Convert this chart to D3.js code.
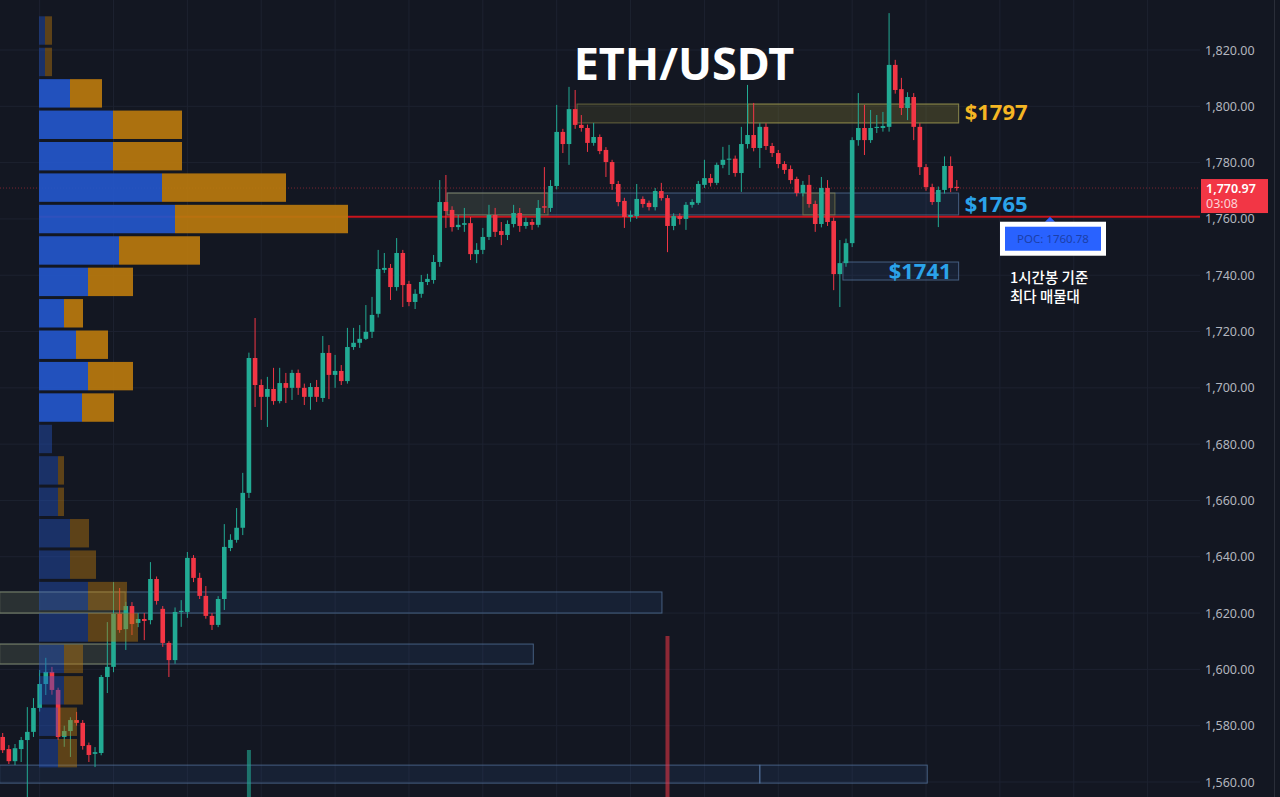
<!DOCTYPE html>
<html>
<head>
<meta charset="utf-8">
<script src="https://cdn.jsdelivr.net/npm/d3@7"></script>
<style>
  body { margin: 0; background: #131722; }
  svg { display: block; }
</style>
</head>
<body>
<div class="canvas"></div>
<script>
// 1h candles (oldest first)
const opens = [
  1576.0,1571.7,1567.4,1571.7,1574.9,1577.8,1586.3,1594.8,1599.1,1592.7,
  1576.0,1578.1,1582.0,1581.0,1573.1,1570.0,1570.3,1597.3,1600.9,1619.7,
  1614.3,1622.5,1616.5,1617.9,1617.5,1632.1,1621.5,1609.4,1603.3,1620.4,
  1620.4,1639.6,1632.5,1626.1,1619.0,1615.8,1625.0,1643.1,1646.0,1650.3,
  1662.7,1710.6,1701.0,1696.8,1699.6,1695.3,1701.7,1700.0,1705.3,1700.0,
  1696.8,1700.3,1696.4,1712.4,1704.6,1706.0,1702.4,1714.5,1716.0,1717.4,
  1719.9,1726.3,1741.9,1742.6,1735.8,1747.9,1736.9,1730.5,1733.4,1737.6,
  1738.3,1744.7,1766.0,1763.2,1757.1,1757.9,1758.5,1747.5,1749.0,1753.6,
  1761.4,1755.7,1754.3,1758.2,1762.1,1757.5,1758.9,1757.9,1764.5,1763.9,
  1771.7,1790.9,1786.6,1799.0,1793.4,1792.3,1787.0,1789.1,1784.5,1780.2,
  1772.4,1766.4,1760.7,1761.0,1767.1,1765.7,1764.2,1769.9,1767.4,1757.5,
  1761.0,1760.0,1765.0,1765.7,1772.1,1774.5,1772.8,1779.2,1781.2,1781.4,
  1776.3,1786.6,1789.8,1785.2,1792.7,1785.9,1783.4,1779.5,1777.7,1774.2,
  1769.2,1772.1,1765.3,1758.2,1771.0,1759.3,1740.4,1744.3,1751.4,1788.0,
  1792.3,1788.0,1792.3,1792.3,1792.7,1814.7,1806.1,1799.4,1803.3,1792.7,
  1778.4,1771.3,1766.0,1770.3,1778.8,1771.4
];
const highs = [
  1577.4,1573.1,1573.5,1576.0,1586.6,1589.8,1599.8,1604.1,1600.9,1593.5,
  1580.0,1583.0,1584.9,1582.0,1574.0,1572.4,1598.0,1616.8,1631.0,1628.9,
  1624.0,1623.9,1620.0,1620.0,1638.1,1633.0,1622.5,1610.0,1622.0,1624.6,
  1641.7,1640.6,1634.3,1629.6,1620.0,1626.0,1651.6,1648.0,1657.3,1669.8,
  1712.5,1724.8,1703.0,1703.9,1707.1,1707.1,1705.3,1706.4,1706.5,1701.5,
  1701.7,1702.8,1718.4,1715.2,1711.7,1708.1,1721.3,1721.3,1722.3,1729.4,
  1732.3,1749.0,1747.9,1744.0,1753.2,1749.0,1738.0,1735.0,1740.1,1740.5,
  1747.2,1773.8,1775.6,1764.5,1761.4,1763.9,1760.7,1751.4,1756.8,1765.0,
  1763.9,1758.9,1759.5,1765.0,1763.9,1760.5,1760.0,1766.7,1778.4,1773.8,
  1800.5,1792.0,1806.9,1805.8,1796.9,1793.5,1794.1,1790.0,1785.5,1781.0,
  1773.5,1767.5,1763.0,1772.4,1768.0,1766.5,1771.0,1772.8,1768.5,1762.0,
  1762.0,1766.0,1767.0,1773.5,1781.0,1776.0,1780.0,1785.6,1786.3,1782.5,
  1792.7,1807.6,1801.2,1794.0,1794.0,1787.0,1784.5,1780.5,1779.0,1775.0,
  1773.5,1775.6,1766.5,1774.9,1773.8,1760.5,1752.5,1753.0,1789.0,1804.7,
  1800.5,1798.7,1796.9,1798.0,1833.1,1816.5,1810.1,1805.0,1804.7,1794.0,
  1779.5,1772.5,1771.5,1782.2,1782.2,1773.8
];
const lows = [
  1570.3,1566.4,1566.0,1567.1,1550.0,1576.0,1585.0,1590.9,1591.0,1575.0,
  1572.5,1568.9,1580.0,1571.5,1567.1,1565.3,1569.5,1591.6,1599.0,1613.0,
  1606.9,1612.2,1615.0,1610.4,1616.0,1623.0,1608.0,1597.3,1602.0,1615.1,
  1618.3,1631.0,1625.0,1618.0,1614.0,1615.0,1621.1,1642.0,1645.0,1647.7,
  1660.9,1693.2,1688.6,1686.1,1694.0,1694.5,1694.6,1695.7,1697.5,1693.9,
  1692.2,1695.0,1695.0,1696.0,1700.0,1701.0,1701.5,1713.5,1714.2,1717.0,
  1717.7,1725.0,1740.8,1731.2,1734.5,1728.7,1729.0,1728.0,1732.0,1736.5,
  1737.0,1743.0,1756.8,1755.5,1756.1,1755.4,1745.4,1744.3,1747.5,1752.5,
  1753.6,1750.7,1752.5,1757.0,1755.4,1756.5,1756.1,1757.0,1762.1,1762.5,
  1770.5,1783.4,1779.2,1792.0,1791.0,1783.8,1786.0,1783.0,1774.9,1770.3,
  1764.5,1756.8,1759.0,1760.0,1764.0,1763.0,1763.0,1766.5,1748.2,1756.0,
  1758.0,1756.1,1764.0,1765.0,1771.0,1771.5,1772.0,1778.0,1775.6,1775.0,
  1769.6,1785.0,1784.0,1778.1,1784.5,1782.0,1778.0,1776.0,1772.5,1768.0,
  1768.0,1764.0,1755.4,1757.0,1757.5,1734.7,1728.7,1743.0,1750.0,1786.0,
  1782.7,1787.0,1790.5,1791.0,1791.0,1804.5,1796.9,1795.1,1788.0,1775.6,
  1770.0,1765.0,1757.1,1769.0,1769.5,1770.0
];
const closes = [
  1571.3,1567.4,1572.0,1574.9,1577.8,1586.3,1594.8,1599.1,1592.7,1576.0,
  1578.1,1582.0,1581.0,1572.8,1569.6,1570.6,1597.3,1600.9,1619.7,1614.0,
  1622.5,1616.1,1617.9,1617.2,1632.1,1624.3,1609.4,1603.3,1620.4,1620.8,
  1639.6,1632.5,1626.1,1619.0,1615.8,1625.0,1643.5,1646.0,1650.3,1662.7,
  1710.6,1701.0,1696.8,1699.6,1695.3,1701.7,1700.0,1705.3,1700.0,1696.8,
  1700.3,1696.8,1712.4,1704.6,1706.0,1702.4,1714.5,1716.0,1717.4,1719.9,
  1725.9,1742.2,1742.6,1735.8,1747.9,1736.5,1730.5,1733.4,1737.6,1738.7,
  1744.7,1766.0,1762.8,1757.1,1757.9,1758.5,1747.5,1749.0,1753.6,1761.4,
  1755.4,1754.3,1758.2,1762.1,1757.5,1758.9,1757.9,1763.9,1764.0,1771.7,
  1790.9,1786.6,1799.0,1793.4,1792.3,1787.0,1789.1,1784.1,1780.2,1772.4,
  1766.0,1760.7,1761.4,1767.1,1765.3,1764.2,1769.9,1767.4,1757.5,1761.0,
  1760.0,1765.0,1766.0,1772.4,1774.5,1772.8,1779.2,1781.0,1781.4,1776.3,
  1786.6,1789.8,1785.2,1792.7,1785.9,1783.4,1779.5,1777.4,1773.8,1769.2,
  1772.1,1765.3,1758.2,1771.0,1758.9,1740.4,1744.3,1751.4,1788.0,1792.3,
  1788.0,1792.3,1792.7,1793.0,1814.7,1805.8,1799.4,1803.3,1792.7,1778.4,
  1771.3,1766.0,1770.3,1778.8,1771.0,1770.97
];

// only the tallest volume bars reach into view
const volumeSpikes = [
  { i: 40, v: 50, up: true },
  { i: 108, v: 88, up: false }
];

// volume profile rows, top to bottom (buy / sell)
const profileTop = 1832.5;
const profileRow = 11.16;
const profileBuy  = [6,6,31,74,74,123,136,80,49,25,37,49,43,13,19,19,31,31,49,49,25,25,19,19];
const profileSell = [7,7,32,69,69,124,173,81,45,19,32,45,32,0,6,6,19,26,39,50,19,19,19,19];
const valueAreaRows = [2, 12];
const poc = 1760.78;
const lastPrice = 1770.97;
const countdown = '03:08';

// zones: price range + candle index range
const zones = [
  { top: 1800.8, bottom: 1794.1, from: 93.3,  to: 155.3, kind: 'olive' },
  { top: 1800.8, bottom: 1794.1, from: 121.1, to: 155.3, kind: 'olive' },
  { top: 1769.2, bottom: 1761.4, from: 72.2,  to: 155.3, kind: 'blue' },
  { top: 1769.2, bottom: 1761.4, from: 72.2,  to: 88.6,  kind: 'olive' },
  { top: 1769.2, bottom: 1761.4, from: 130.0, to: 135.2, kind: 'olive' },
  { top: 1744.7, bottom: 1738.3, from: 136.5, to: 155.3, kind: 'blue' },
  { top: 1627.5, bottom: 1620.0, from: -0.5,  to: 107.1, kind: 'blue' },
  { top: 1627.5, bottom: 1620.0, from: -0.5,  to: 19.9,  kind: 'olive' },
  { top: 1609.0, bottom: 1601.9, from: -0.5,  to: 86.2,  kind: 'blue' },
  { top: 1609.0, bottom: 1601.9, from: -0.5,  to: 18.2,  kind: 'olive' },
  { top: 1566.0, bottom: 1559.6, from: -0.5,  to: 123.0, kind: 'blue' },
  { top: 1566.0, bottom: 1559.6, from: 123.0, to: 150.2, kind: 'blue' }
];
const zoneLabels = [
  { text: '$1797', price: 1797.9, at: 155.3, inside: false, color: '#f5b623' },
  { text: '$1765', price: 1765.3, at: 155.3, inside: false, color: '#2ba3ea' },
  { text: '$1741', price: 1741.5, at: 155.3, inside: true,  color: '#2ba3ea' }
];
const noteLines = ['1시간봉 기준', '최다 매물대'];

const priceTicks = [1560,1580,1600,1620,1640,1660,1680,1700,1720,1740,1760,1780,1800,1820];

const W = 1280, H = 797, plotRight = 1200;
const up = '#22ab94', down = '#f23645';

const svg = d3.select('.canvas')
  .append('svg')
    .attr('width', W)
    .attr('height', H);

svg.append('rect').attr('width', W).attr('height', H).attr('fill', '#131722');

const x = d3.scaleLinear().domain([0, opens.length - 1]).range([2.7, 956.8]);
const y = d3.scaleLinear().domain([1560, 1820]).range([782, 50]);
const vol = d3.scaleLinear().domain([0, 100]).range([900, 600]);
const px = d3.scaleLinear().domain([0, 309]).range([39, 348]);

// grid
svg.append('g').selectAll('line')
  .data(priceTicks)
  .join('line')
    .attr('x1', 0).attr('x2', plotRight)
    .attr('y1', d => y(d)).attr('y2', d => y(d))
    .attr('stroke', '#1d2230');

svg.append('g').selectAll('line')
  .data(d3.range(6, 190, 12))
  .join('line')
    .attr('x1', d => x(d)).attr('x2', d => x(d))
    .attr('y1', 0).attr('y2', H)
    .attr('stroke', '#1d2230');

// zones
svg.append('g').selectAll('rect')
  .data(zones)
  .join('rect')
    .attr('x', d => x(d.from))
    .attr('y', d => y(d.top))
    .attr('width', d => x(d.to) - x(d.from))
    .attr('height', d => y(d.bottom) - y(d.top))
    .attr('fill', d => d.kind === 'olive' ? 'rgba(120,115,50,0.2)' : 'rgba(50,90,150,0.16)')
    .attr('stroke', d => d.kind === 'olive' ? 'rgba(150,145,80,0.6)' : 'rgba(95,130,175,0.65)')
    .attr('stroke-width', 1);

// POC line and last price line
svg.append('line')
  .attr('x1', px(0)).attr('x2', plotRight)
  .attr('y1', y(poc)).attr('y2', y(poc))
  .attr('stroke', '#c8151d').attr('stroke-width', 2);

svg.append('line')
  .attr('x1', 0).attr('x2', plotRight)
  .attr('y1', y(lastPrice)).attr('y2', y(lastPrice))
  .attr('stroke', down).attr('stroke-opacity', 0.45)
  .attr('stroke-dasharray', '1,2');

// volume spikes
svg.append('g').selectAll('rect')
  .data(volumeSpikes)
  .join('rect')
    .attr('x', d => x(d.i) - 2)
    .attr('width', 4)
    .attr('y', d => vol(d.v))
    .attr('height', d => H - vol(d.v))
    .attr('fill', d => d.up ? 'rgba(34,171,148,0.6)' : 'rgba(242,54,69,0.55)');

// candles
const candles = opens.map((o, i) => ({ i, o, h: highs[i], l: lows[i], c: closes[i] }));

const cg = svg.append('g');
cg.selectAll('line')
  .data(candles)
  .join('line')
    .attr('x1', d => x(d.i)).attr('x2', d => x(d.i))
    .attr('y1', d => y(d.h)).attr('y2', d => y(d.l))
    .attr('stroke', d => d.c >= d.o ? up : down)
    .attr('stroke-width', 1);

cg.selectAll('rect')
  .data(candles)
  .join('rect')
    .attr('x', d => x(d.i) - 2.3)
    .attr('width', 4.6)
    .attr('y', d => y(Math.max(d.o, d.c)))
    .attr('height', d => Math.max(1, Math.abs(y(d.o) - y(d.c))))
    .attr('fill', d => d.c >= d.o ? up : down);

// volume profile
const rows = profileBuy.map((b, k) => ({
  k, b, s: profileSell[k],
  top: profileTop - k * profileRow,
  inVA: k >= valueAreaRows[0] && k <= valueAreaRows[1]
}));

const pg = svg.append('g');
pg.selectAll('rect.buy')
  .data(rows)
  .join('rect')
    .attr('class', 'buy')
    .attr('x', px(0))
    .attr('y', d => y(d.top) + 1.5)
    .attr('width', d => px(d.b) - px(0))
    .attr('height', d => y(d.top - profileRow) - y(d.top) - 3)
    .attr('fill', '#2456c9')
    .attr('opacity', d => d.inVA ? 0.93 : 0.42);

pg.selectAll('rect.sell')
  .data(rows)
  .join('rect')
    .attr('class', 'sell')
    .attr('x', d => px(d.b))
    .attr('y', d => y(d.top) + 1.5)
    .attr('width', d => px(d.b + d.s) - px(d.b))
    .attr('height', d => y(d.top - profileRow) - y(d.top) - 3)
    .attr('fill', '#b8780e')
    .attr('opacity', d => d.inVA ? 0.93 : 0.45);

// zone labels
svg.append('g').selectAll('text')
  .data(zoneLabels)
  .join('text')
    .attr('x', d => d.inside ? x(d.at) - 70 : x(d.at) + 6)
    .attr('y', d => y(d.price) + 8)
    .attr('fill', d => d.color)
    .attr('font-family', 'Noto Sans, sans-serif')
    .attr('font-weight', 700)
    .attr('font-size', 22)
    .text(d => d.text);

// title
svg.append('text')
  .attr('x', 684).attr('y', 80)
  .attr('text-anchor', 'middle')
  .attr('fill', '#ffffff')
  .attr('font-family', 'Noto Sans, sans-serif')
  .attr('font-weight', 700)
  .attr('font-size', 45)
  .text('ETH/USDT');

// right axis
const axis = svg.append('g')
  .attr('transform', `translate(${plotRight + 2},0)`)
  .call(d3.axisRight(y).tickValues(priceTicks).tickFormat(d3.format(',.2f')).tickSize(0).tickPadding(3));
axis.select('.domain').remove();
axis.selectAll('text')
  .attr('fill', '#b2b5be')
  .attr('font-family', 'Noto Sans, sans-serif')
  .attr('font-size', 12.5);

svg.append('line')
  .attr('x1', 1274.5).attr('x2', 1274.5).attr('y1', 0).attr('y2', H)
  .attr('stroke', '#2a2e39');

// last price tag
const ly = y(lastPrice);
svg.append('rect')
  .attr('x', 1201).attr('y', ly - 9).attr('width', 67).attr('height', 34)
  .attr('fill', down);
svg.append('text')
  .attr('x', 1206).attr('y', ly + 5)
  .attr('fill', '#ffffff').attr('font-family', 'Noto Sans, sans-serif')
  .attr('font-size', 12.5).attr('font-weight', 600)
  .text(d3.format(',.2f')(lastPrice));
svg.append('text')
  .attr('x', 1206).attr('y', ly + 20)
  .attr('fill', '#fcd2d6').attr('font-family', 'Noto Sans, sans-serif')
  .attr('font-size', 12.5)
  .text(countdown);

// POC tag
const py = y(poc);
svg.append('path')
  .attr('d', `M1045,${py + 5} L1055,${py + 5} L1050,${py} Z`)
  .attr('fill', '#2962ff');
svg.append('rect')
  .attr('x', 1000).attr('y', py + 5).attr('width', 106).attr('height', 34)
  .attr('fill', '#ffffff');
svg.append('rect')
  .attr('x', 1005).attr('y', py + 10).attr('width', 96).attr('height', 24)
  .attr('fill', '#2962ff');
svg.append('text')
  .attr('x', 1053).attr('y', py + 26)
  .attr('text-anchor', 'middle')
  .attr('fill', '#1c3fa8').attr('font-family', 'Noto Sans, sans-serif')
  .attr('font-size', 11.5)
  .text('POC: ' + poc);

// note
svg.append('g').selectAll('text')
  .data(noteLines)
  .join('text')
    .attr('x', 1010)
    .attr('y', (d, i) => py + 66 + i * 19)
    .attr('fill', '#ffffff')
    .attr('font-family', 'Noto Sans CJK KR, sans-serif')
    .attr('font-weight', 500)
    .attr('font-size', 14.5)
    .text(d => d);
</script>
</body>
</html>
